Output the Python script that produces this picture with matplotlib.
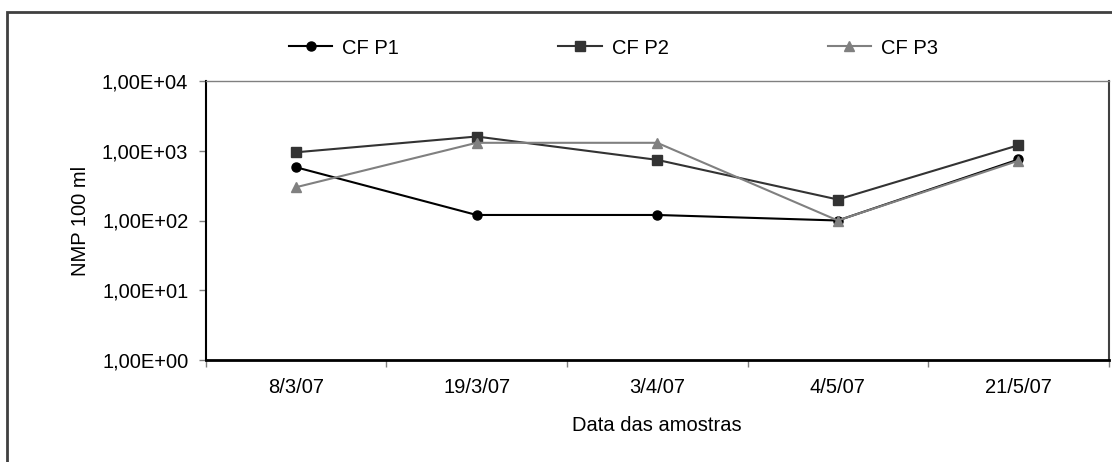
import matplotlib
matplotlib.use("Agg")
import matplotlib.pyplot as plt
from matplotlib.patches import Rectangle
from matplotlib.ticker import FixedLocator, FuncFormatter

plt.rcParams['font.family'] = ['Liberation Sans', 'DejaVu Sans']
FS = 14.5

# data
datas = ["8/3/07", "19/3/07", "3/4/07", "4/5/07", "21/5/07"]
cf_p1 = [580, 120, 120, 100, 750]
cf_p2 = [950, 1600, 740, 200, 1200]
cf_p3 = [300, 1300, 1300, 100, 720]

fig = plt.figure(figsize=(11.12, 4.62), dpi=100)
ax = fig.add_axes([205.7 / 1112, 1 - 360 / 462, 903 / 1112, 279 / 462])

x = list(range(len(datas)))
ax.plot(x, cf_p1, color='black', lw=1.5, marker='o', ms=6.5, label='CF P1', zorder=4)
ax.plot(x, cf_p2, color='#333333', lw=1.5, marker='s', ms=6.5, label='CF P2', zorder=3)
ax.plot(x, cf_p3, color='#808080', lw=1.5, marker='^', ms=7.5, label='CF P3', zorder=5)

ax.set_yscale('log')
ax.set_ylim(1, 1e4)
ax.set_xlim(-0.5, len(datas) - 0.5)

ax.yaxis.set_major_locator(FixedLocator([1, 10, 100, 1000, 10000]))
ax.yaxis.set_minor_locator(FixedLocator([]))
ax.yaxis.set_major_formatter(FuncFormatter(
    lambda v, p: ("%.2E" % v).replace('.', ',')))
ax.tick_params(axis='y', which='major', direction='out', length=5,
               width=1, color='#808080', pad=7.5, labelsize=FS)

# category boundaries as ticks, labels centred in between
ax.xaxis.set_major_locator(FixedLocator([i - 0.5 for i in range(len(datas) + 1)]))
ax.xaxis.set_major_formatter(FuncFormatter(lambda v, p: ""))
ax.xaxis.set_minor_locator(FixedLocator(x))
ax.set_xticklabels(datas, minor=True)
ax.tick_params(axis='x', which='major', direction='out', length=5,
               width=1, color='#808080')
ax.tick_params(axis='x', which='minor', length=0, pad=13, labelsize=FS)

ax.spines['left'].set_linewidth(1.5)
ax.spines['bottom'].set_linewidth(2)
ax.spines['top'].set_color('#808080')
ax.spines['top'].set_linewidth(1)
ax.spines['right'].set_color('#404040')
ax.spines['right'].set_linewidth(1.5)

ax.set_ylabel("NMP 100 ml", fontsize=FS, va='center')
ax.yaxis.set_label_coords(-0.139, 0.5)
ax.set_xlabel("Data das amostras", fontsize=FS, va='center')
ax.xaxis.set_label_coords(0.5, -0.233)

fig.legend(loc='center left', bbox_to_anchor=(289 / 1112, 1 - 48 / 462),
           ncol=3, frameon=False, fontsize=FS, borderpad=0, borderaxespad=0,
           handlelength=2.15, handletextpad=0.5, columnspacing=7.9)

# outer chart frame (only left and top edges show)
fig.add_artist(Rectangle((6.5 / 1112, -0.1), 1.2, 1.1 - 12 / 462,
                         transform=fig.transFigure, fill=False,
                         edgecolor='#404040', lw=2))

fig.savefig("out.png", dpi=100)
